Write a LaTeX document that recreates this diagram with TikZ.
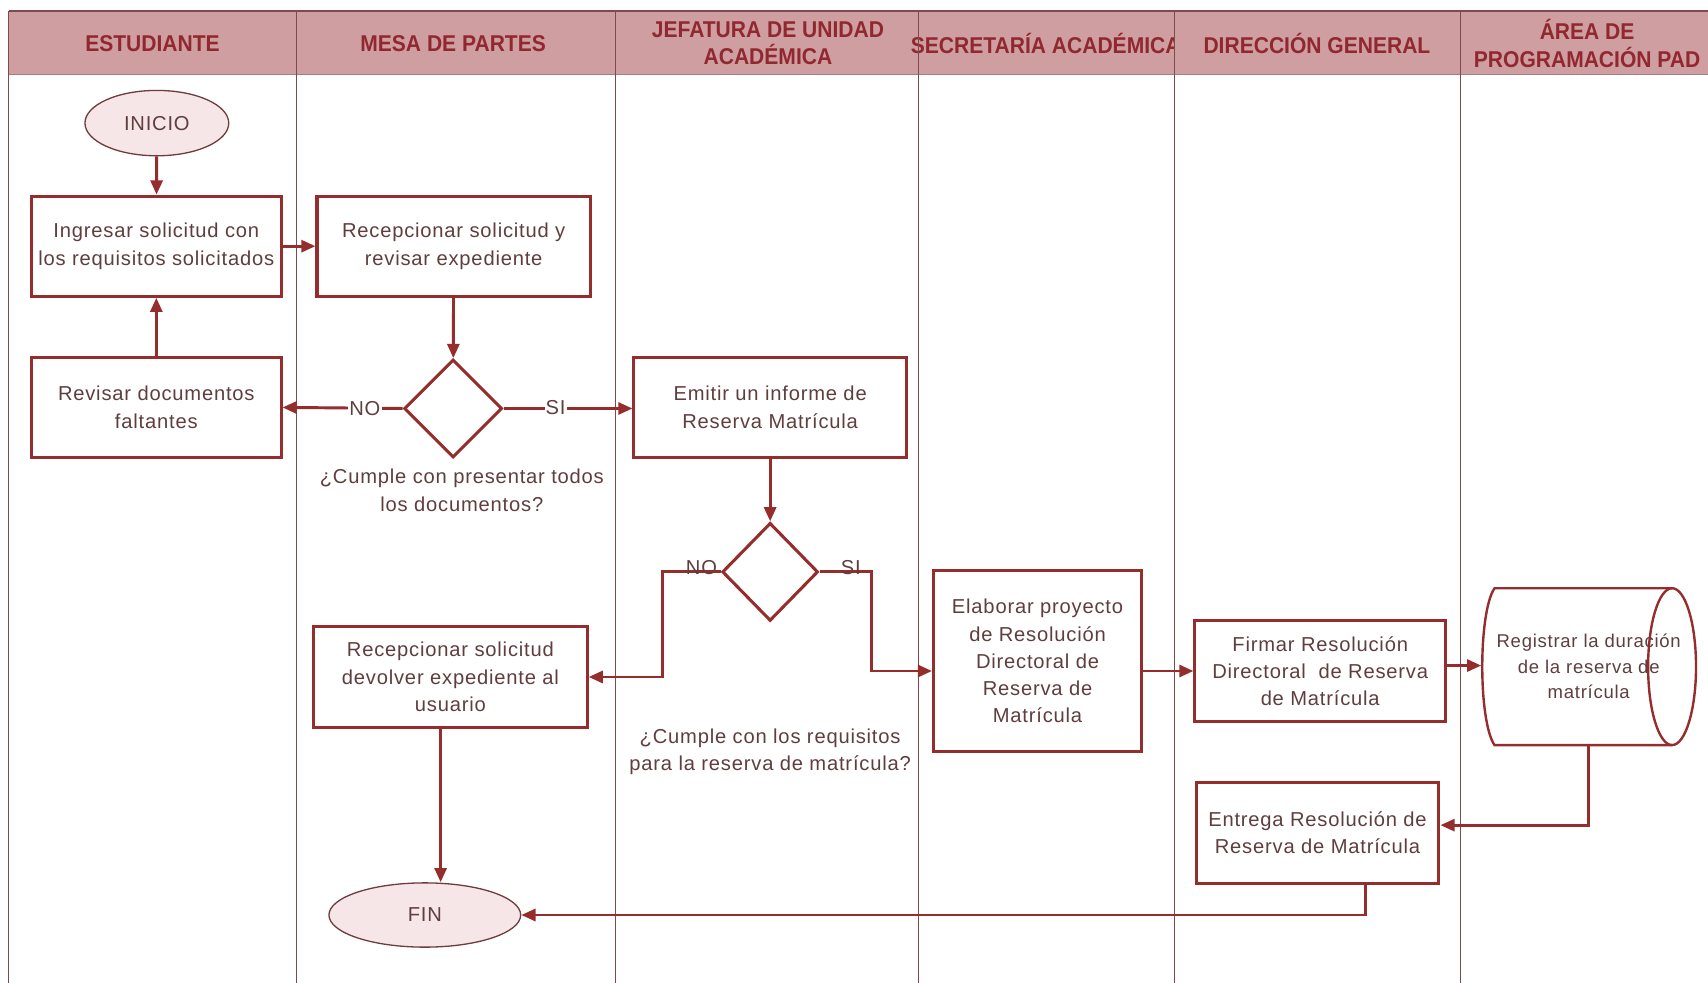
\documentclass[tikz,border=0pt]{standalone}
\usepackage{fontspec}
\setmainfont{Liberation Sans}
\newfontfamily\bodyfont[LetterSpace=4]{Liberation Sans}
\newfontfamily\hdfont[FakeStretch=0.92]{Liberation Sans}
\usetikzlibrary{shapes.geometric,arrows.meta,calc}
\definecolor{lnc}{RGB}{150,45,45}
\definecolor{lanec}{RGB}{125,75,75}
\definecolor{txc}{RGB}{95,62,62}
\definecolor{hdfill}{RGB}{206,158,160}
\definecolor{hdtx}{RGB}{145,40,48}
\definecolor{ovfill}{RGB}{246,230,232}
\definecolor{ovline}{RGB}{110,60,60}
\begin{document}
\begin{tikzpicture}[x=1pt,y=-1pt,
  bodyf/.style={font={\bodyfont\fontsize{18.5}{25}\selectfont},text=txc},
  box/.style={bodyf,draw=lnc,line width=2.8pt,fill=white,align=center,inner sep=0pt},
  oval/.style={bodyf,ellipse,draw=ovline,line width=1.2pt,fill=ovfill,inner sep=0pt},
  decis/.style={diamond,draw=lnc,line width=2.8pt,fill=white,inner sep=0pt},
  arr/.style={draw=lnc,line width=2.7pt,-{Triangle[length=13pt,width=11pt]}},
  lbl/.style={bodyf,inner sep=1pt},
  hdcell/.style={fill=hdfill},
  hdtext/.style={font={\hdfont\bfseries\fontsize{21}{25}\selectfont},text=hdtx,align=center,inner sep=0pt},
  lane/.style={draw=lanec,line width=1.2pt},
  note/.style={bodyf,align=center,inner sep=0pt}
]
\useasboundingbox (0,0) rectangle (1568,902);
\fill[white] (0,0) rectangle (1568,902);

% header cells
\fill[hdcell] (8,10) rectangle (1078,68);
\node[hdtext] (h1) at (140,40) {ESTUDIANTE};
\node[hdtext] (h2) at (416,40) {MESA DE PARTES};
\node[hdtext] (h3) at (705,40) {JEFATURA DE UNIDAD\\ACADÉMICA};
\node[hdtext,anchor=west] (h4) at (836,40) {SECRETARÍA ACADÉMICA};
\fill[hdcell] (1078,10) rectangle (1568,68);
\node[hdtext] (h5) at (1209,40) {DIRECCIÓN GENERAL};
\node[hdtext] (h6) at (1457,40) {ÁREA DE\\PROGRAMACIÓN PAD};
\draw[lanec,line width=1.8pt] (8,10) -- (1568,10);
\draw[draw=lanec!70,line width=1pt] (8,68) -- (1568,68);
\foreach \xx in {8,272,565,843,1078,1341}{\draw[lane] (\xx,10) -- (\xx,902);}

% nodes
\node[oval,minimum width=132,minimum height=60] (ini) at (144,113) {INICIO};
\node[box,minimum width=229,minimum height=92] (b1) at (143.5,226) {Ingresar solicitud con\\los requisitos solicitados};
\node[box,minimum width=251,minimum height=92] (b2) at (416.5,226) {Recepcionar solicitud y\\revisar expediente};
\node[box,minimum width=229,minimum height=92] (b3) at (143.5,374) {Revisar documentos\\faltantes};
\node[decis,minimum width=90,minimum height=90] (d1) at (416,375) {};
\node[box,minimum width=250,minimum height=92] (b4) at (707,374) {Emitir un informe de\\Reserva Matrícula};
\node[note] (c1) at (424,450) {¿Cumple con presentar todos\\los documentos?};
\node[decis,minimum width=88,minimum height=90] (d2) at (707,525) {};
\node[box,minimum width=251,minimum height=93] (b5) at (413.5,621.5) {Recepcionar solicitud\\devolver expediente al\\usuario};
\node[note] (c2) at (707,690) {¿Cumple con los requisitos\\para la reserva de matrícula?};
\node[box,minimum width=191,minimum height=166] (b6) at (952.5,607) {Elaborar proyecto\\de Resolución\\Directoral de\\Reserva de\\Matrícula};
\node[box,minimum width=230,minimum height=92] (b7) at (1212,616) {Firmar Resolución\\Directoral \ de Reserva\\de Matrícula};
\node[box,minimum width=223,minimum height=93] (b8) at (1209.5,764.5) {Entrega Resolución de\\Reserva de Matrícula};
\node[oval,minimum width=176,minimum height=59] (fin) at (390,840) {FIN};

% cylinder (storage)
\draw[draw=lnc,line width=2.2pt,fill=white] (1535,540) -- (1372,540) .. controls (1357,562) and (1357,662) .. (1372,684) -- (1535,684);
\draw[draw=lnc,line width=2.2pt] (1535,612) ellipse [x radius=22,y radius=72];
\node[bodyf,align=center,inner sep=0pt,minimum width=197,minimum height=144,
  font={\bodyfont\fontsize{17}{23.5}\selectfont}] (cyl) at (1458.5,612) {Registrar la duración\\de la reserva de\\matrícula};

% connectors
\draw[arr] (ini) -- (b1);
\draw[arr] (b1) -- (b2);
\draw[arr] (b2) -- (d1);
\draw[arr] (b3) -- (b1);
\draw[arr] (d1.west) -- (b3.east);
\node[lbl,fill=white] (no1) at (335,375) {NO};
\draw[arr] (d1.east) -- (d1.east -| b4.west);
\node[lbl,fill=white] (si1) at (510,374) {SI};
\draw[arr] (b4) -- (d2);
\draw[arr] (d2.west) -- ++(-53,0) |- (b5.east);
\node[lbl,anchor=base] (no2) at (644,527) {NO};
\draw[arr] (d2.east) -- ++(48,0) |- (b6.west |- b7.west);
\node[lbl,anchor=base] (si2) at (781,527) {SI};
\draw[arr] (b6.east |- b7.west) -- (b7.west);
\draw[arr] ([yshift=5pt]b7.east) -- ([yshift=5pt]b7.east -| cyl.west);
\draw[arr] (cyl.south) |- ([yshift=7pt]b8.east);
\draw[arr] ([xshift=44pt]b8.south) |- (fin.east);
\draw[arr] ([xshift=-9pt]b5.south) -- ([xshift=-9pt]b5.south |- fin.north);
\end{tikzpicture}
\end{document}
